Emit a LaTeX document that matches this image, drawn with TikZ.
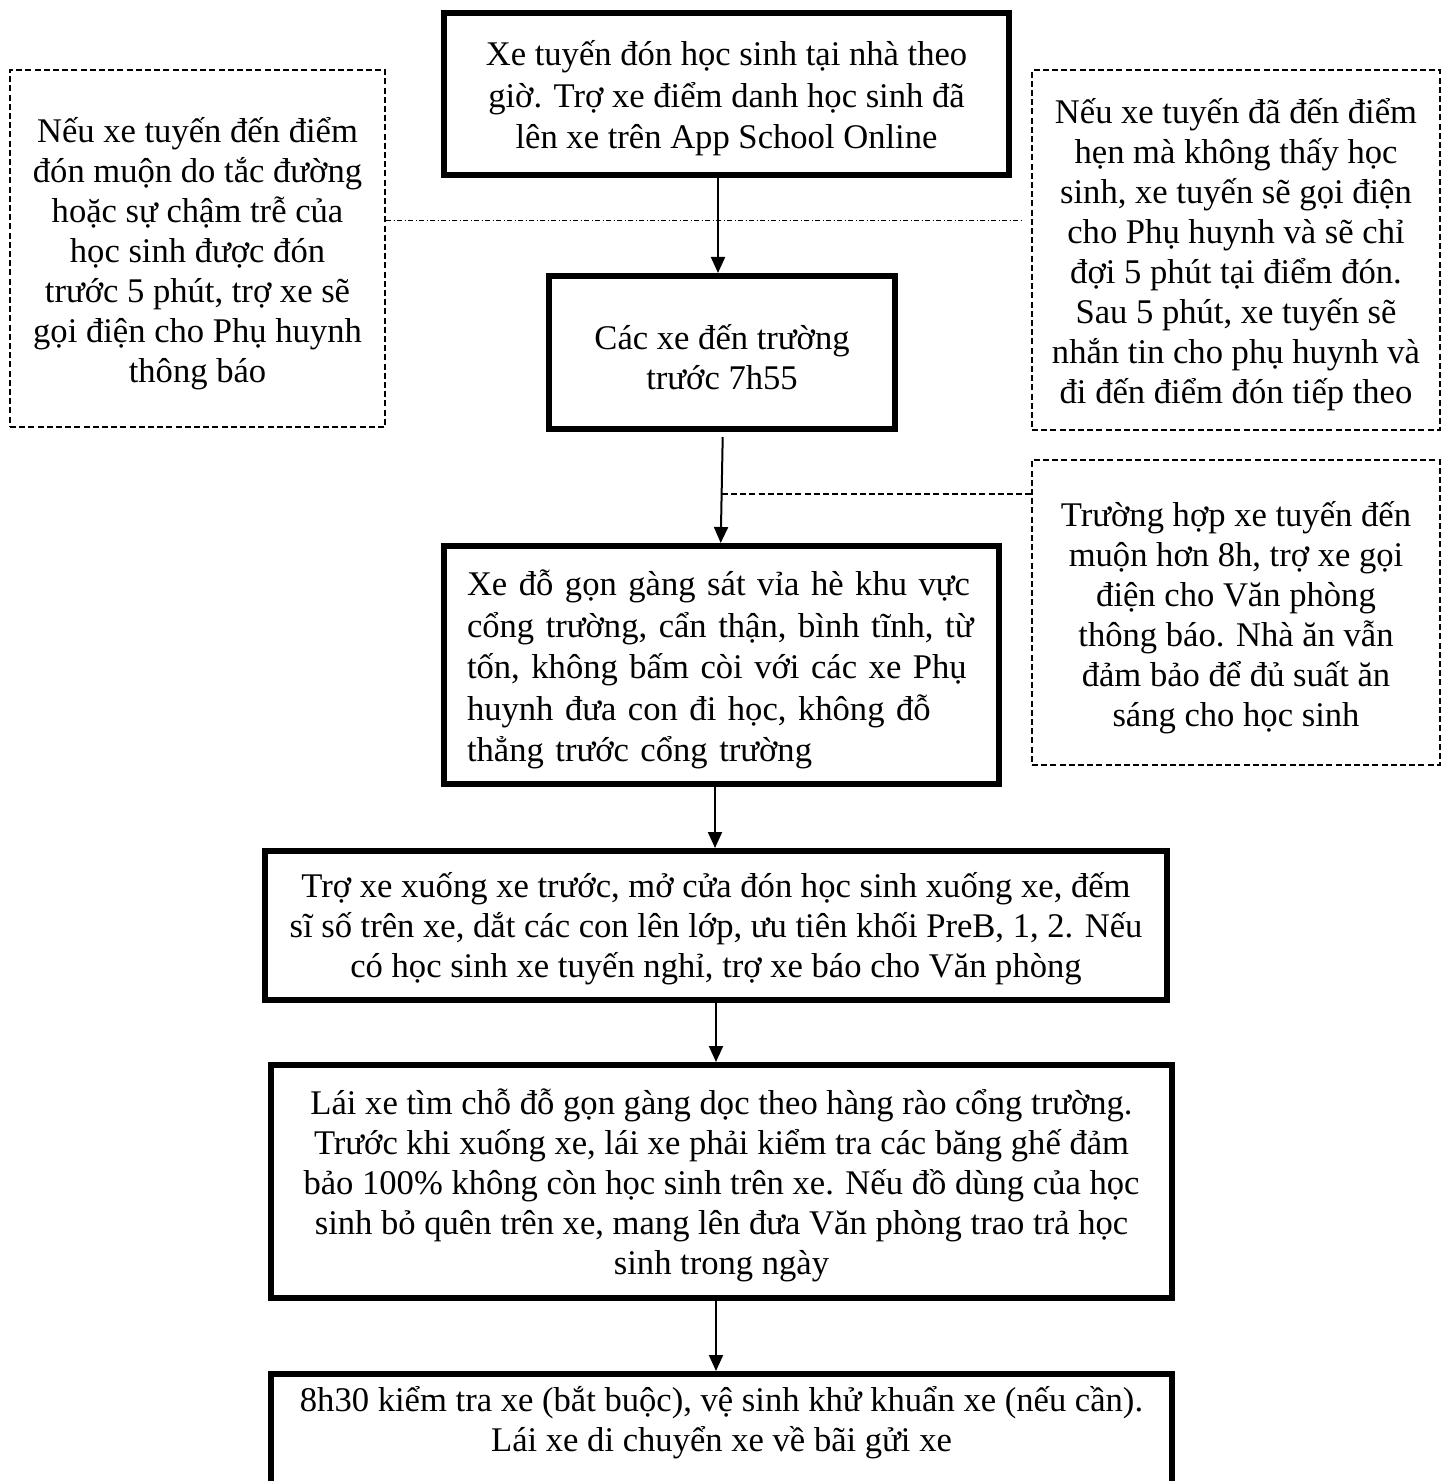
\documentclass[tikz,border=0pt]{standalone}
\usepackage{fontspec}
\setmainfont{Liberation Serif}
\usetikzlibrary{arrows.meta,calc}
\newcommand\myfs{\fontsize{17.3pt}{20pt}\selectfont}
\newcommand\myfsb{\fontsize{17.3pt}{20.7pt}\selectfont}
\newcommand\jl[1]{\makebox[\linewidth][s]{#1}}
\begin{document}
\begin{tikzpicture}[x=0.5pt,y=-0.5pt,
  flow/.style={draw, line width=3pt, inner sep=0pt},
  note/.style={draw, line width=1.2pt, dash pattern=on 3pt off 1.6pt, inner sep=0pt},
  txt/.style={align=center, inner sep=0pt, font=\myfs},
  arr/.style={line width=1pt, -{Triangle[width=7pt,length=8pt]}},
  dashlink/.style={line width=1.2pt, dash pattern=on 3pt off 1.6pt},
  dotlink/.style={line width=0.5pt, dash pattern=on 2.5pt off 1.2pt on 0.6pt off 1.2pt},
]
\useasboundingbox (0,0) rectangle (1446,1481);

% main flow boxes
\node[flow, minimum width=282.5pt, minimum height=81pt] (B1) at (726.5,94) {};
\node[txt, font=\myfsb] (B1t) at ([yshift=-2.25pt]B1.center)
  {Xe tuyến đón học sinh tại nhà theo\\giờ. Trợ xe điểm danh học sinh đã\\lên xe trên App School Online};

\node[flow, minimum width=173pt, minimum height=76.5pt] (B2) at (722,352.5) {};
\node[txt] (B2t) at ([yshift=-2.5pt]B2.center) {Các xe đến trường\\trước 7h55};

\node[flow, minimum width=277.5pt, minimum height=119pt] (B3) at (721.5,665) {};
\node[txt, font=\myfsb, text width=254.5pt, align=left] (B3t) at ([yshift=-2.25pt]B3.center)
  {\jl{Xe đỗ gọn gàng sát vỉa hè khu vực}\\
   \jl{cổng trường, cẩn thận, bình tĩnh, từ}\\
   \jl{tốn, không bấm còi với các xe Phụ}\\
   \jl{huynh đưa con đi học, không đỗ}\\
   thẳng trước cổng trường};

\node[flow, minimum width=451pt, minimum height=74.5pt] (B4) at (716,925.5) {};
\node[txt] (B4t) at ([yshift=-1.75pt]B4.center)
  {Trợ xe xuống xe trước, mở cửa đón học sinh xuống xe, đếm\\
   sĩ số trên xe, dắt các con lên lớp, ưu tiên khối PreB, 1, 2. Nếu\\
   có học sinh xe tuyến nghỉ, trợ xe báo cho Văn phòng};

\node[flow, minimum width=450.5pt, minimum height=116.5pt] (B5) at (721.5,1181.5) {};
\node[txt] (B5t) at ([yshift=-2pt]B5.center)
  {Lái xe tìm chỗ đỗ gọn gàng dọc theo hàng rào cổng trường.\\
   Trước khi xuống xe, lái xe phải kiểm tra các băng ghế đảm\\
   bảo 100\% không còn học sinh trên xe. Nếu đồ dùng của học\\
   sinh bỏ quên trên xe, mang lên đưa Văn phòng trao trả học\\
   sinh trong ngày};

\node[flow, minimum width=450.5pt, minimum height=70pt, anchor=north] (B6) at (721.5,1371) {};
\node[txt] (B6t) at ([yshift=-26pt]B6.north)
  {8h30 kiểm tra xe (bắt buộc), vệ sinh khử khuẩn xe (nếu cần).\\
   Lái xe di chuyển xe về bãi gửi xe};

% side notes
\node[note, minimum width=187.5pt, minimum height=178.5pt] (L) at (197.5,248.5) {};
\node[txt] (Lt) at ([yshift=-2.75pt]L.center)
  {Nếu xe tuyến đến điểm\\đón muộn do tắc đường\\hoặc sự chậm trễ của\\học sinh được đón\\trước 5 phút, trợ xe sẽ\\gọi điện cho Phụ huynh\\thông báo};
\node[note, minimum width=204pt, minimum height=180pt] (R1) at (1236,250) {};
\node[txt] (R1t) at ([yshift=-2.5pt]R1.center)
  {Nếu xe tuyến đã đến điểm\\hẹn mà không thấy học\\sinh, xe tuyến sẽ gọi điện\\cho Phụ huynh và sẽ chỉ\\đợi 5 phút tại điểm đón.\\Sau 5 phút, xe tuyến sẽ\\nhắn tin cho phụ huynh và\\đi đến điểm đón tiếp theo};
\node[note, minimum width=204pt, minimum height=152.5pt] (R2) at (1236,612.5) {};
\node[txt] (R2t) at ([yshift=-2.5pt]R2.center)
  {Trường hợp xe tuyến đến\\muộn hơn 8h, trợ xe gọi\\điện cho Văn phòng\\thông báo. Nhà ăn vẫn\\đảm bảo để đủ suất ăn\\sáng cho học sinh};

% helper coordinates
\coordinate (k1) at (718,221);
\coordinate (e1) at (1023,221);
\coordinate (s2) at (722.7,437);
\coordinate (k2) at (721.7,494);

% connectors
\draw[arr] (B1.south -| k1) -- (B2.north -| k1);
\draw[arr] (s2) -- (B3.north -| 720.7,0);
\draw[arr] (B3.south -| 715,0) -- (B4.north -| 715,0);
\draw[arr] (B4.south -| 716,0) -- (B5.north -| 716,0);
\draw[arr] (B5.south -| 716,0) -- (B6.north -| 716,0);

\draw[dotlink] (L.east |- k1) -- (e1);
\draw[dashlink] (k2) -- (R2.west |- k2);
\end{tikzpicture}
\end{document}
